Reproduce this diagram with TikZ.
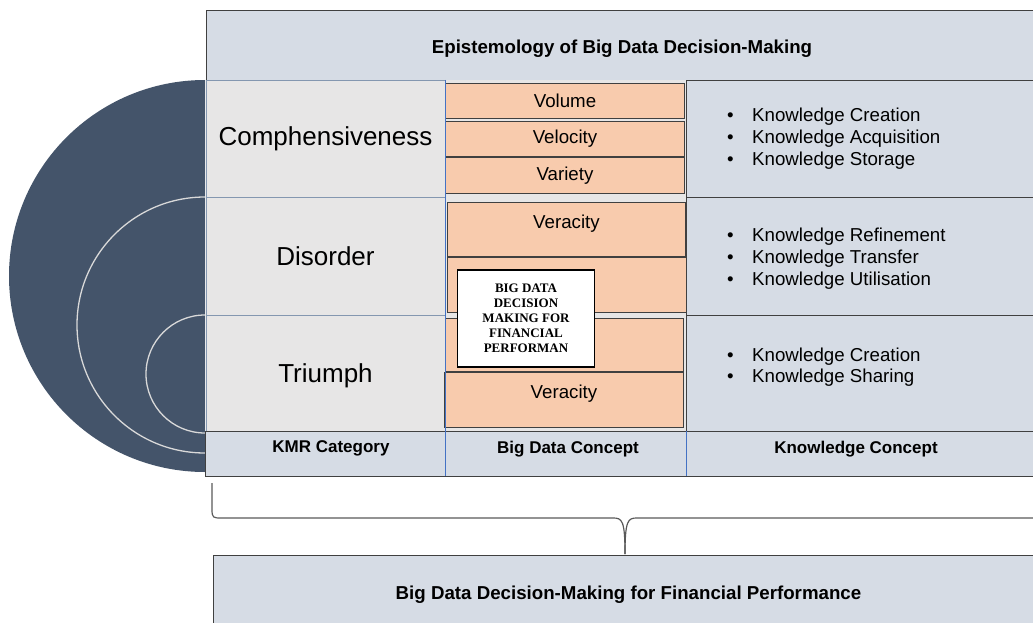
\documentclass[tikz,border=0pt]{standalone}
\usepackage{fontspec}
\setmainfont{Liberation Sans}
\newfontfamily\boxserif{Liberation Serif}
\usetikzlibrary{positioning}

\definecolor{ringblue}{HTML}{44546A}
\definecolor{headfill}{HTML}{D6DCE5}
\definecolor{catfill}{HTML}{E7E6E6}
\definecolor{vfill}{HTML}{F8CBAD}
\definecolor{edge}{HTML}{404040}
\definecolor{gridblue}{HTML}{4472C4}
\definecolor{rowline}{HTML}{8497B0}
\definecolor{braceline}{HTML}{595959}
\newcommand{\kitem}[1]{\makebox[25pt][l]{\textbullet}#1}

\begin{document}
\begin{tikzpicture}[x=1pt,y=-1pt,
  cell/.style={draw=edge, line width=0.9pt, anchor=north west, inner sep=0pt, outer sep=0pt},
  vbox/.style={draw=edge, fill=vfill, line width=1pt, anchor=north west, inner sep=0pt, minimum width=239pt},
  big/.style={font=\fontsize{26}{30}\selectfont},
  conc/.style={font=\fontsize{18.7}{22}\selectfont, inner sep=0pt},
  head/.style={font=\bfseries\fontsize{18.7}{22}\selectfont, inner sep=0pt, text depth=0pt},
  colhead/.style={font=\bfseries\fontsize{17}{20}\selectfont, inner sep=0pt, text depth=0pt},
  klist/.style={font=\fontsize{18.7}{21.7}\selectfont, align=left, anchor=west, inner sep=0pt},
  ring/.style={draw=white!85!black, line width=1.3pt}
]
  \useasboundingbox (0,0) rectangle (1033,623);

  % the three rings
  \fill[ringblue] (205,80) arc[start angle=90, end angle=270, radius=196pt] -- cycle;
  \draw[ring] (205,197) arc[start angle=90, end angle=270, radius=128pt];
  \draw[ring] (205,315) arc[start angle=90, end angle=270, radius=59pt];

  % header
  \node[cell, fill=headfill, minimum width=832pt, minimum height=70pt] (epi) at (206,10) {};
  \node[head] (epitxt) at (622,47) {Epistemology of Big Data Decision-Making};

  % KMR category column
  \node[cell, big, fill=catfill, draw=rowline, minimum width=239pt, minimum height=117pt] (comp) at (206,80) {Comphensiveness};
  \node[cell, big, fill=catfill, draw=rowline, minimum width=239pt, minimum height=118pt] (dis) at (206,197) {Disorder};
  \node[cell, big, fill=catfill, draw=rowline, minimum width=239pt, minimum height=116pt, text depth=0pt] (tri) at (206,315) {Triumph};

  % big data column
  \node[cell, fill=catfill, draw=none, minimum width=241pt, minimum height=351pt] (bdcol) at (445,80) {};
  \node[vbox, conc, minimum height=35pt] (vol) at (445,83) {Volume};
  \node[vbox, conc, minimum height=35pt] (vel) at (445,121) {Velocity};
  \node[vbox, conc, minimum height=36pt] (var) at (445,157) {Variety};
  \node[vbox, minimum width=238pt, minimum height=54pt] (ver1) at (447,202) {};
  \node[vbox, minimum height=55pt] (blank1) at (447,257) {};
  \node[vbox, minimum width=238pt, minimum height=53pt] (blank2) at (445,318) {};
  \node[vbox, minimum height=55pt] (ver2) at (444,372) {};
  \node[conc, below=13pt of ver1.north] (ver1txt) {Veracity};
  \node[conc, below=13pt of ver2.north] (ver2txt) {Veracity};

  % knowledge column
  \node[cell, fill=headfill, minimum width=360pt, minimum height=117pt] (know1) at (686,80) {};
  \node[cell, fill=headfill, minimum width=360pt, minimum height=118pt] (know2) at (686,197) {};
  \node[cell, fill=headfill, minimum width=360pt, minimum height=116pt] (know3) at (686,315) {};
  \node[klist] (list1) at (727,138.5) {\kitem{Knowledge Creation}\\\kitem{Knowledge Acquisition}\\\kitem{Knowledge Storage}};
  \node[klist] (list2) at (727,258.5) {\kitem{Knowledge Refinement}\\\kitem{Knowledge Transfer}\\\kitem{Knowledge Utilisation}};
  \node[klist, font=\fontsize{18.7}{20.5}\selectfont] (list3) at (727,367) {\kitem{Knowledge Creation}\\\kitem{Knowledge Sharing}};

  % column captions
  \node[cell, fill=headfill, minimum width=240pt, minimum height=45pt] (kmr) at (205,431) {};
  \node[cell, fill=headfill, minimum width=241pt, minimum height=45pt] (bdc) at (445,431) {};
  \node[cell, fill=headfill, minimum width=360pt, minimum height=45pt] (kc) at (686,431) {};
  \draw[gridblue, line width=0.6pt] (bdcol.north west) -- (bdc.south west);
  \draw[gridblue, line width=0.6pt] (bdc.north east) -- (bdc.south east);
  \node[colhead] (kmrtxt) at (331,447) {KMR Category};
  \node[colhead] (bdctxt) at (568,447) {Big Data Concept};
  \node[colhead] (kctxt) at (856,447) {Knowledge Concept};

  % overlay box
  \node[draw=black, line width=1.8pt, fill=white, minimum width=137pt, minimum height=97pt, align=center, inner sep=0pt,
    font=\boxserif\bfseries\fontsize{13}{15}\selectfont] (bdm) at (526,318.5) {BIG DATA\\DECISION\\MAKING FOR\\FINANCIAL\\PERFORMAN};

  % brace and result
  \node[cell, fill=headfill, minimum width=831pt, minimum height=80pt] (bdfp) at (213,555) {};
  \node[head] (bdfptxt) at (628.5,593) {Big Data Decision-Making for Financial Performance};
  \coordinate (tip) at (625,554);
  \draw[braceline, line width=1.2pt] (212,483) -- (212,509) .. controls (212,518) and (213,518) .. (222,518) -- (613,518)
    .. controls (622,518) and (625,520) .. (tip);
  \draw[braceline, line width=1.2pt] (tip) .. controls (625,520) and (628,518) .. (637,518) -- (1045,518);
\end{tikzpicture}
\end{document}
